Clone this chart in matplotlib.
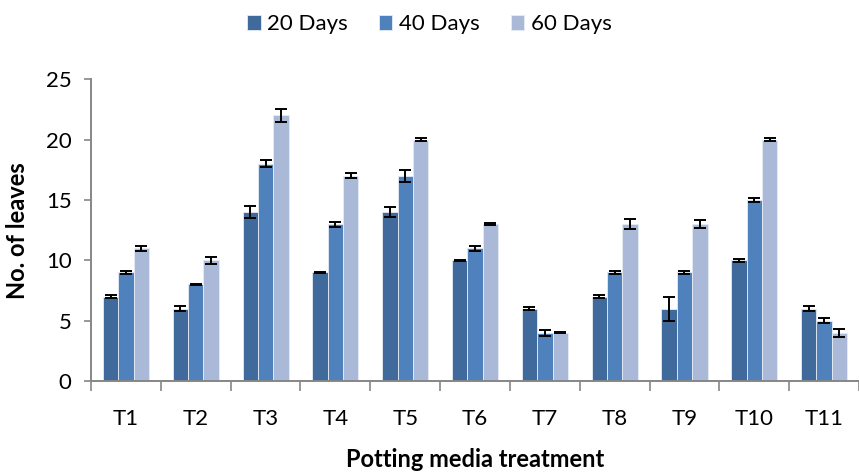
import matplotlib
matplotlib.use("Agg")
import matplotlib.pyplot as plt
import numpy as np

plt.rcParams['font.family'] = ['Lato', 'DejaVu Sans']

treatments = ["T1", "T2", "T3", "T4", "T5", "T6", "T7", "T8", "T9", "T10", "T11"]
series_names = ["20 Days", "40 Days", "60 Days"]
days20 = [7, 6, 14, 9, 14, 10, 6, 7, 6, 10, 6]
days40 = [9, 8, 18, 13, 17, 11, 4, 9, 9, 15, 5]
days60 = [11, 10, 22, 17, 20, 13, 4, 13, 13, 20, 4]
err20 = [0.15, 0.2, 0.5, 0.05, 0.45, 0.05, 0.1, 0.1, 1.0, 0.1, 0.2]
err40 = [0.15, 0.05, 0.3, 0.2, 0.5, 0.2, 0.25, 0.15, 0.15, 0.15, 0.2]
err60 = [0.2, 0.3, 0.55, 0.2, 0.1, 0.1, 0.05, 0.4, 0.3, 0.1, 0.35]
colors = ["#416A9C", "#4F81BD", "#AAB9D7"]
y_ticks = [0, 5, 10, 15, 20, 25]

fig = plt.figure(figsize=(8.59, 4.74), dpi=100)
ax = fig.add_axes([0.106, 0.196, 0.894, 0.637])

x = np.arange(len(treatments))
w = 0.22
for i, (vals, errs, c, name) in enumerate(zip([days20, days40, days60],
                                               [err20, err40, err60],
                                               colors, series_names)):
    ax.bar(x + (i - 1) * w, vals, w, color=c, edgecolor="#E6ECF5", linewidth=0.6,
           label=name, zorder=2)
    ax.errorbar(x + (i - 1) * w, vals, yerr=errs, fmt="none", ecolor="black",
                elinewidth=1.4, capsize=4.2, capthick=1.4, zorder=3)

ax.set_xlim(-0.5, len(treatments) - 0.5)
ax.set_ylim(0, 25)
ax.set_yticks(y_ticks)
ax.set_yticklabels([str(t) for t in y_ticks], fontsize=16)

# category labels at centers, tick marks between groups
ax.set_xticks(x)
ax.set_xticklabels(treatments, fontsize=16)
ax.tick_params(axis="x", which="major", length=0, pad=20)
ax.set_xticks(np.arange(-0.5, len(treatments), 1.0), minor=True)
ax.tick_params(axis="x", which="minor", length=7, width=1.2, color="#868686", direction="out")
ax.tick_params(axis="y", length=5, width=1.2, color="#868686", direction="out", pad=9)

for s in ["top", "right"]:
    ax.spines[s].set_visible(False)
for s in ["left", "bottom"]:
    ax.spines[s].set_color("#868686")
    ax.spines[s].set_linewidth(1.4)

ax.set_ylabel("No. of leaves", fontsize=17, fontweight="bold", labelpad=12)
ax.set_xlabel("Potting media treatment", fontsize=17, fontweight="bold", labelpad=14)

leg = fig.legend(loc="upper center", bbox_to_anchor=(0.5, 1.012), ncol=3, frameon=False,
                 fontsize=16, handlelength=0.6, handleheight=0.6, handletextpad=0.3,
                 columnspacing=1.4)

fig.savefig("out.png", dpi=100)
